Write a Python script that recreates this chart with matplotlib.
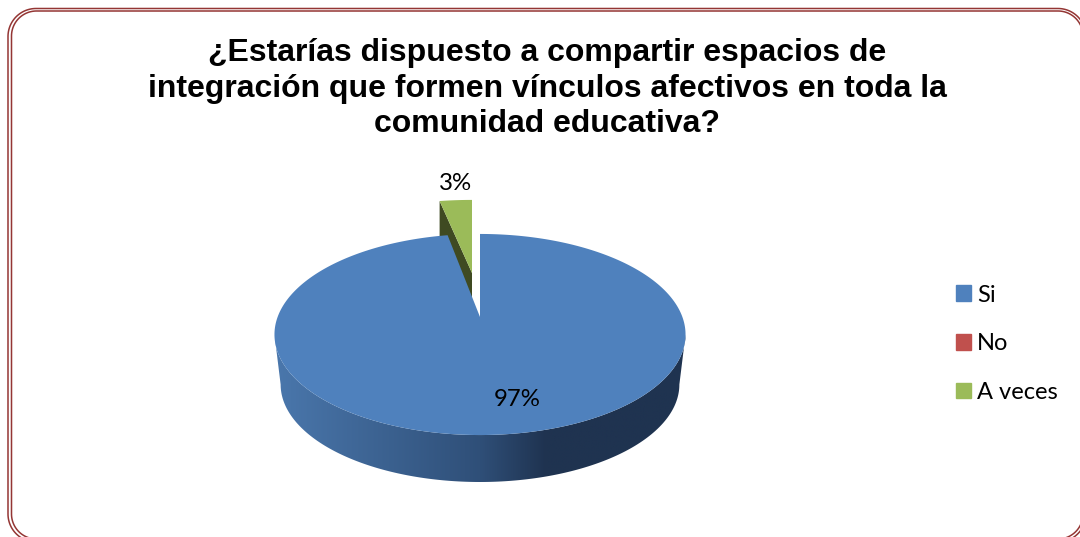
import numpy as np
import matplotlib
matplotlib.use("Agg")
import matplotlib.pyplot as plt
from matplotlib.colors import LinearSegmentedColormap
from matplotlib.patches import Patch, Polygon

title = "¿Estarías dispuesto a compartir espacios de\nintegración que formen vínculos afectivos en toda la\ncomunidad educativa?"
categories = ["Si", "No", "A veces"]
values = [97, 0, 3]
colors = ["#4f81bd", "#c0504d", "#9bbb59"]

# perspective of the disc
CX, CY = 480, 317
RX, RY, PERSP = 202.4, 97.5, 0.174


def project(theta, cx=CX, cy=CY, scale=1.0, yscale=1.0):
    """theta runs clockwise from 12 o'clock, returns pixel coords"""
    u, v = np.sin(theta), np.cos(theta)
    w = 1 + PERSP * v
    return cx + scale * RX * u / w, cy - scale * yscale * RY * v / w


def rounded_box(x0, y0, x1, y1, r):
    """outline of a rounded rectangle as a closed polyline"""
    # starts on the right side, which is off the picture, so the line ends don't show
    corners = [(x1 - r, y1 - r, 0), (x0 + r, y1 - r, np.pi / 2),
               (x0 + r, y0 + r, np.pi), (x1 - r, y0 + r, -np.pi / 2)]
    xs, ys = [], []
    for cx, cy, start in corners:
        a = np.linspace(start, start + np.pi / 2, 30)
        xs.extend(cx + r * np.cos(a))
        ys.extend(cy + r * np.sin(a))
    return xs + xs[:1], ys + ys[:1]


fig = plt.figure(figsize=(10.8, 5.37), dpi=100)
ax = fig.add_axes([0, 0, 1, 1])

# double border, runs off the right and bottom of the picture
for box in [(8, 8.5, 1086, 542, 28), (11.5, 11, 1083, 539, 25)]:
    bx, by = rounded_box(*box)
    ax.plot(bx, by, color="#943634", lw=1.1)

ax.text(547, 88.5, title, ha="center", va="center", fontsize=23, fontweight="bold",
        family="Liberation Sans", color="black", linespacing=1.24)

# slice angles from the data
fracs = np.array(values) / sum(values)
edges = np.concatenate([[0], np.cumsum(fracs)]) * 2 * np.pi
blue_t = np.linspace(edges[0], edges[1], 300)
green_t = np.linspace(edges[2], edges[3], 30)

# side wall of the big slice, gradient clipped to it
t = np.linspace(np.pi / 2 + 0.175, 3 * np.pi / 2 - 0.175, 200)
tx, ty = project(t)
bx, by = project(t[::-1], cy=367.5, scale=0.97)
wall = Polygon(np.column_stack([np.r_[tx, bx], np.r_[ty, by]]), fc="none", ec="none")
ax.add_patch(wall)
cmap = LinearSegmentedColormap.from_list(
    "wall", [(0, "#4a77ac"), (0.5, "#2f4f78"), (0.66, "#1f3350"), (1, "#1f3350")])
im = ax.imshow(np.linspace(0, 1, 256)[None, :], extent=(275, 686, 490, 300), cmap=cmap,
               aspect="auto", zorder=2)
im.set_clip_path(wall)

# small slice: cut face then top
gx, gy = project(green_t, cx=472, cy=273, yscale=0.88)
ax.fill([gx[0], 472, 472, gx[0]], [gy[0], 273, 313, gy[0] + 40], color="#3f4a22", lw=0, zorder=3)
ax.fill(np.r_[472, gx], np.r_[273, gy], color=colors[2], lw=0, zorder=4)

# big slice top
x, y = project(blue_t)
ax.fill(np.r_[CX, x], np.r_[CY, y], color=colors[0], lw=0, zorder=5)

ax.text(517, 399.5, f"{values[0]}%", ha="center", va="center", fontsize=17.3, family="Lato", zorder=6)
ax.text(456, 183.5, f"{values[2]}%", ha="center", va="center", fontsize=17.3, family="Lato", zorder=6)

handles = [Patch(color=c) for c in colors]
ax.legend(handles, categories, loc="upper left", bbox_to_anchor=(956 / 1080, 1 - 284.5 / 537),
          frameon=False, prop={"family": "Lato", "size": 17}, handlelength=0.64, handleheight=0.64,
          handletextpad=0.25, labelspacing=1.17, borderaxespad=0, borderpad=0)

ax.set_xlim(0, 1080)
ax.set_ylim(537, 0)
ax.axis("off")

fig.savefig("out.png", dpi=100)
